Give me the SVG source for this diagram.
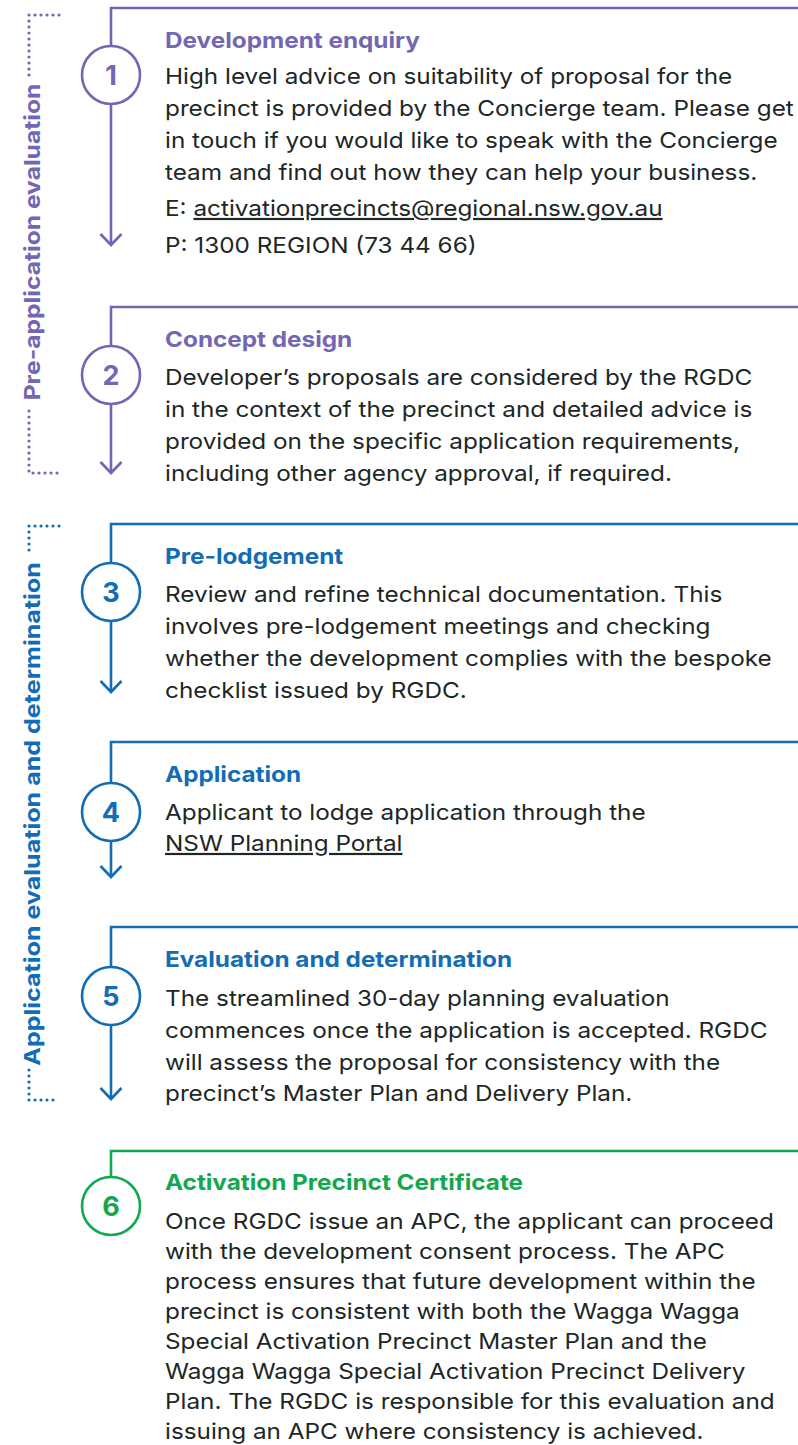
<svg xmlns="http://www.w3.org/2000/svg" width="798" height="1445" viewBox="0 0 798 1445">
<defs>
<style>
.bg{fill:#ffffff}
.frame{fill:none;stroke-width:2.6}
.p{stroke:#7366b3}
.b{stroke:#136cb6}
.g{stroke:#12a84f}
.circ{fill:#ffffff;stroke-width:2.6}
.num{font-family:"Inter","Liberation Sans",sans-serif;font-weight:700;font-size:27px;text-anchor:middle}
.title{font-family:"Inter","Liberation Sans",sans-serif;font-weight:700;font-size:22px}
.body{font-family:"Inter","Liberation Sans",sans-serif;font-size:22px;fill:#1c2726}
.side{font-family:"Inter","Liberation Sans",sans-serif;font-weight:700;font-size:22px;text-anchor:middle}
.dots{fill:none;stroke-width:3.2;stroke-linecap:round;stroke-dasharray:0 6}
.fp{fill:#7366b3}
.fb{fill:#136cb6}
.fg{fill:#12a84f}
.ul{text-decoration:underline}
</style>
<marker id="ap" markerUnits="userSpaceOnUse" markerWidth="30" markerHeight="30" refX="0" refY="0" orient="auto" overflow="visible"><path d="M-11,-10.5 L0,0 L-11,10.5" fill="none" stroke="#7366b3" stroke-width="2.6"/></marker>
<marker id="ab" markerUnits="userSpaceOnUse" markerWidth="30" markerHeight="30" refX="0" refY="0" orient="auto" overflow="visible"><path d="M-11,-10.5 L0,0 L-11,10.5" fill="none" stroke="#136cb6" stroke-width="2.6"/></marker>
</defs>
<rect class="bg" x="0" y="0" width="798" height="1445"/>

<g id="bracket-pre">
<path class="dots p" d="M59,15 L29,15 L29,78"/>
<path class="dots p" d="M29,411 L29,473 L59,473"/>
<text class="side fp" transform="translate(40,242) rotate(-90) scale(1.12,1)">Pre-application evaluation</text>
</g>
<g id="bracket-app">
<path class="dots b" d="M59,526 L29,526 L29,556"/>
<path class="dots b" d="M29,1070 L29,1100 L59,1100"/>
<text class="side fb" transform="translate(40,814) rotate(-90) scale(1.14,1)">Application evaluation and determination</text>
</g>

<g id="connectors">
<line class="frame p" x1="111" y1="104" x2="111" y2="245" marker-end="url(#ap)"/>
<line class="frame p" x1="111" y1="404" x2="111" y2="473" marker-end="url(#ap)"/>
<line class="frame b" x1="111" y1="621" x2="111" y2="692" marker-end="url(#ab)"/>
<line class="frame b" x1="111" y1="841" x2="111" y2="877" marker-end="url(#ab)"/>
<line class="frame b" x1="111" y1="1025" x2="111" y2="1099" marker-end="url(#ab)"/>
</g>

<g id="step1">
<path class="frame p" d="M798,8 L111,8 L111,46"/>
<circle class="circ p" cx="111" cy="75" r="29"/>
<text class="num fp" x="111" y="85">1</text>
<g transform="translate(165,0) scale(1.105,1)">
<text class="title fp" x="0" y="48">Development enquiry</text>
<text class="body" x="0" y="84">High level advice on suitability of proposal for the</text>
<text class="body" x="0" y="116">precinct is provided by the Concierge team. Please get</text>
<text class="body" x="0" y="148">in touch if you would like to speak with the Concierge</text>
<text class="body" x="0" y="180">team and find out how they can help your business.</text>
<text class="body" x="0" y="216">E: <tspan class="ul">activationprecincts@regional.nsw.gov.au</tspan></text>
<text class="body" x="0" y="253">P: 1300 REGION (73 44 66)</text>
</g>
</g>

<g id="step2">
<path class="frame p" d="M798,307 L111,307 L111,346"/>
<circle class="circ p" cx="111" cy="375" r="29"/>
<text class="num fp" x="111" y="385">2</text>
<g transform="translate(165,0) scale(1.105,1)">
<text class="title fp" x="0" y="347">Concept design</text>
<text class="body" x="0" y="385">Developer’s proposals are considered by the RGDC</text>
<text class="body" x="0" y="417">in the context of the precinct and detailed advice is</text>
<text class="body" x="0" y="449">provided on the specific application requirements,</text>
<text class="body" x="0" y="481">including other agency approval, if required.</text>
</g>
</g>

<g id="step3">
<path class="frame b" d="M798,524 L111,524 L111,563"/>
<circle class="circ b" cx="111" cy="592" r="29"/>
<text class="num fb" x="111" y="602">3</text>
<g transform="translate(165,0) scale(1.105,1)">
<text class="title fb" x="0" y="564">Pre-lodgement</text>
<text class="body" x="0" y="602">Review and refine technical documentation. This</text>
<text class="body" x="0" y="634">involves pre-lodgement meetings and checking</text>
<text class="body" x="0" y="666">whether the development complies with the bespoke</text>
<text class="body" x="0" y="698">checklist issued by RGDC.</text>
</g>
</g>

<g id="step4">
<path class="frame b" d="M798,742 L111,742 L111,783"/>
<circle class="circ b" cx="111" cy="812" r="29"/>
<text class="num fb" x="111" y="822">4</text>
<g transform="translate(165,0) scale(1.105,1)">
<text class="title fb" x="0" y="782">Application</text>
<text class="body" x="0" y="820">Applicant to lodge application through the</text>
<text class="body ul" x="0" y="851">NSW Planning Portal</text>
</g>
</g>

<g id="step5">
<path class="frame b" d="M798,927 L111,927 L111,967"/>
<circle class="circ b" cx="111" cy="996" r="29"/>
<text class="num fb" x="111" y="1006">5</text>
<g transform="translate(165,0) scale(1.105,1)">
<text class="title fb" x="0" y="967">Evaluation and determination</text>
<text class="body" x="0" y="1006">The streamlined 30-day planning evaluation</text>
<text class="body" x="0" y="1038">commences once the application is accepted. RGDC</text>
<text class="body" x="0" y="1070">will assess the proposal for consistency with the</text>
<text class="body" x="0" y="1101">precinct’s Master Plan and Delivery Plan.</text>
</g>
</g>

<g id="step6">
<path class="frame g" d="M798,1151 L111,1151 L111,1177"/>
<circle class="circ g" cx="111" cy="1206" r="29"/>
<text class="num fg" x="111" y="1216">6</text>
<g transform="translate(165,0) scale(1.105,1)">
<text class="title fg" x="0" y="1190">Activation Precinct Certificate</text>
<text class="body" x="0" y="1229">Once RGDC issue an APC, the applicant can proceed</text>
<text class="body" x="0" y="1259">with the development consent process. The APC</text>
<text class="body" x="0" y="1289">process ensures that future development within the</text>
<text class="body" x="0" y="1319">precinct is consistent with both the Wagga Wagga</text>
<text class="body" x="0" y="1349">Special Activation Precinct Master Plan and the</text>
<text class="body" x="0" y="1379">Wagga Wagga Special Activation Precinct Delivery</text>
<text class="body" x="0" y="1409">Plan. The RGDC is responsible for this evaluation and</text>
<text class="body" x="0" y="1439">issuing an APC where consistency is achieved.</text>
</g>
</g>
</svg>
